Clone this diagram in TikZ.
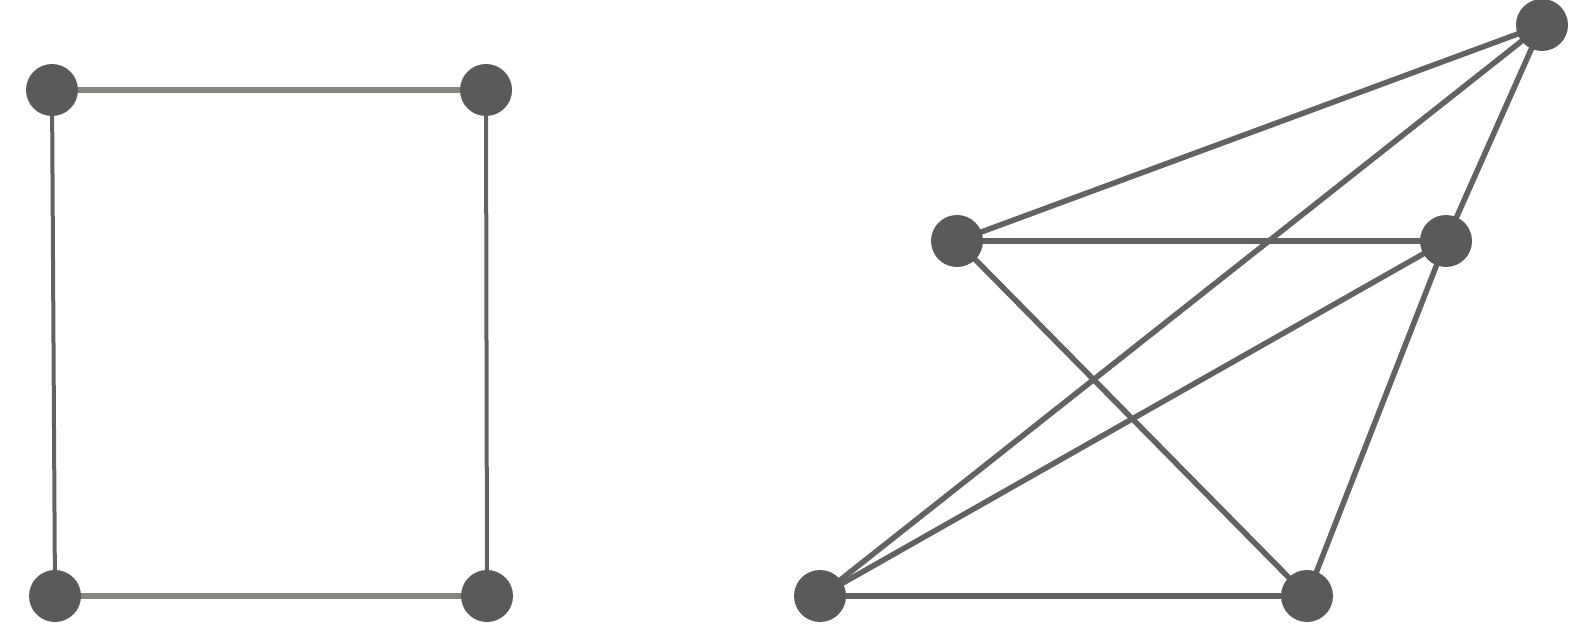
\documentclass[tikz,border=0pt]{standalone}
\usepackage{tikz}
\usetikzlibrary{backgrounds}
\definecolor{dotgray}{HTML}{5A5A5A}
\definecolor{edgegray}{HTML}{626262}
\definecolor{railgray}{HTML}{85867F}

\begin{document}
\begin{tikzpicture}[x=1pt,y=-1pt,
	rail/.style={railgray,line width=6pt},
	post/.style={edgegray,line width=4pt},
	link/.style={edgegray,line width=5.5pt}]
	\useasboundingbox (0,0) rectangle (1588,636);
	\begin{scope}[every node/.style={circle,fill=dotgray,inner sep=0pt,minimum size=52pt}]
		% left graph
		\node (L1) at (52,90) {};
		\node (L2) at (486,90) {};
		\node (L3) at (55,596) {};
		\node (L4) at (487,596) {};
		
		% right graph
		\node (R1) at (1542,25) {};
		\node (R2) at (957,241) {};
		\node (R3) at (1446,241) {};
		\node (R4) at (820,596) {};
		\node (R5) at (1307,596) {};
	\end{scope}
	
	\begin{scope}[on background layer]
		\draw[rail] (L1.center) -- (L2.center);
		\draw[rail] (L3.center) -- (L4.center);
		\draw[post] (L1) -- (L3);
		\draw[post] (L2) -- (L4);
		
		\draw[link] (R1.center) -- (R2.center);
		\draw[link] (R1.center) -- (R3.center);
		\draw[link] (R1.center) -- (R4.center);
		\draw[link] (R2.center) -- (R3.center);
		\draw[link] (R2.center) -- (R5.center);
		\draw[link] (R3.center) -- (R4.center);
		\draw[link] (R3.center) -- (R5.center);
		\draw[link] (R4.center) -- (R5.center);
	\end{scope}
\end{tikzpicture}
\end{document}
